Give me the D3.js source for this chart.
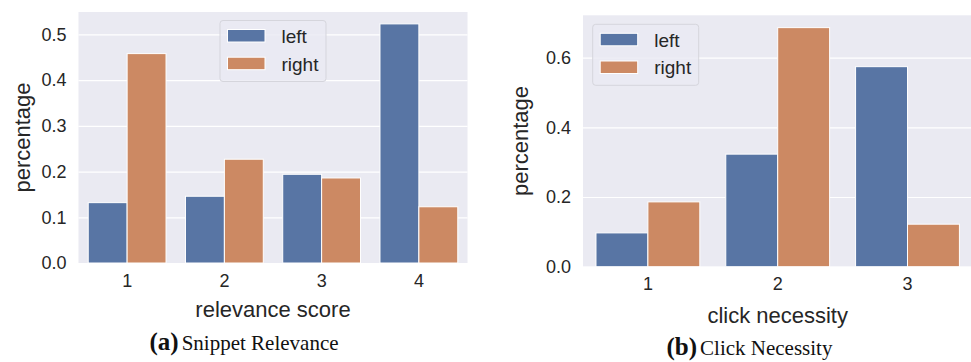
<!DOCTYPE html>
<html>
<head>
<meta charset="utf-8">
<script src="https://cdn.jsdelivr.net/npm/d3@7"></script>
<style>
  html, body { margin: 0; padding: 0; background: #fff; }
  svg { display: block; }
</style>
</head>
<body>
<svg id="chart" width="971" height="362"></svg>
<script>
// Share of "left" vs "right" judgements per score
const seriesNames = ["left", "right"];
const seriesColors = ["#5875a4", "#cc8963"];

const relevanceCategories = ["1", "2", "3", "4"];
const relevanceLeft = [0.132, 0.146, 0.194, 0.523];
const relevanceRight = [0.458, 0.227, 0.186, 0.123];
const relevanceTicks = [0.0, 0.1, 0.2, 0.3, 0.4, 0.5];

const necessityCategories = ["1", "2", "3"];
const necessityLeft = [0.097, 0.323, 0.574];
const necessityRight = [0.186, 0.686, 0.122];
const necessityTicks = [0.0, 0.2, 0.4, 0.6];

const svg = d3.select("#chart");
const sansFont = "'Liberation Sans', Arial, sans-serif";
const serifFont = "'Liberation Serif', 'Times New Roman', serif";

function drawPanel(opt) {
  const g = svg.append("g");
  const x = d3.scaleBand()
    .domain(opt.categories)
    .range([opt.left, opt.right])
    .paddingInner(0.2)
    .paddingOuter(0.1);
  const xs = d3.scaleBand().domain(seriesNames).range([0, x.bandwidth()]);
  const y = d3.scaleLinear().domain([0, opt.yMax]).range([opt.bottom, opt.top]);

  // background
  g.append("rect")
    .attr("x", opt.left).attr("y", opt.top)
    .attr("width", opt.right - opt.left).attr("height", opt.bottom - opt.top)
    .attr("fill", "#eaeaf2");

  // grid + y tick labels
  const yAxis = d3.axisLeft(y).tickValues(opt.ticks).tickFormat(d3.format(".1f"))
    .tickSize(-(opt.right - opt.left)).tickPadding(12);
  const ya = g.append("g").attr("transform", `translate(${opt.left},0)`).call(yAxis);
  ya.select(".domain").remove();
  ya.selectAll(".tick line").attr("stroke", "#ffffff").attr("stroke-width", 1.2);
  ya.selectAll(".tick text")
    .attr("fill", "#262626").attr("font-family", sansFont).attr("font-size", 18);

  // x tick labels
  const xAxis = d3.axisBottom(x).tickSize(0).tickPadding(11);
  const xa = g.append("g").attr("transform", `translate(0,${opt.bottom})`).call(xAxis);
  xa.select(".domain").remove();
  xa.selectAll(".tick text")
    .attr("fill", "#262626").attr("font-family", sansFont).attr("font-size", 18);

  // bars
  const rows = opt.categories.map((c, i) => ({
    cat: c,
    vals: [{ s: "left", v: opt.leftVals[i] }, { s: "right", v: opt.rightVals[i] }]
  }));
  const grp = g.append("g").selectAll("g").data(rows).join("g")
    .attr("transform", d => `translate(${x(d.cat)},0)`);
  grp.selectAll("rect").data(d => d.vals).join("rect")
    .attr("x", d => xs(d.s))
    .attr("width", xs.bandwidth())
    .attr("y", d => y(d.v))
    .attr("height", d => y(0) - y(d.v))
    .attr("fill", (d, i) => seriesColors[i])
    .attr("stroke", "#ffffff").attr("stroke-width", 1);

  // axis titles
  g.append("text")
    .attr("x", (opt.left + opt.right) / 2).attr("y", opt.xTitleY)
    .attr("text-anchor", "middle")
    .attr("font-family", sansFont).attr("font-size", 22).attr("fill", "#262626")
    .text(opt.xTitle);
  g.append("text")
    .attr("transform", `translate(${opt.yTitleX},${(opt.top + opt.bottom) / 2}) rotate(-90)`)
    .attr("text-anchor", "middle")
    .attr("font-family", sansFont).attr("font-size", 22).attr("fill", "#262626")
    .text("percentage");

  // legend
  const lg = g.append("g").attr("transform", `translate(${opt.legendX},${opt.legendY})`);
  lg.append("rect")
    .attr("width", 106).attr("height", 61).attr("rx", 3)
    .attr("fill", "#eaeaf2").attr("fill-opacity", 0.8)
    .attr("stroke", "#d5d5dc").attr("stroke-width", 1);
  seriesNames.forEach((name, i) => {
    lg.append("rect")
      .attr("x", 7.5).attr("y", 9 + i * 27.7)
      .attr("width", 37.5).attr("height", 12.5)
      .attr("fill", seriesColors[i]).attr("stroke", "#ffffff").attr("stroke-width", 1);
    lg.append("text")
      .attr("x", 61.5).attr("y", 22.5 + i * 27.7)
      .attr("font-family", sansFont).attr("font-size", 19).attr("fill", "#262626")
      .text(name);
  });

  // caption
  const cap = g.append("text")
    .attr("x", opt.capX).attr("y", opt.capY)
    .attr("font-family", serifFont).attr("fill", "#111");
  cap.append("tspan").attr("font-weight", "bold").attr("font-size", 25).text(opt.capTag);
  cap.append("tspan").attr("font-size", 21).attr("dx", 3).text(opt.capText);
}

drawPanel({
  categories: relevanceCategories, leftVals: relevanceLeft, rightVals: relevanceRight,
  ticks: relevanceTicks, yMax: 0.549,
  left: 78.5, right: 467.5, top: 12, bottom: 263,
  xTitle: "relevance score", xTitleY: 317, yTitleX: 30,
  legendX: 220, legendY: 20.5,
  capX: 149.5, capY: 349.5, capTag: "(a)", capText: "Snippet Relevance"
});

drawPanel({
  categories: necessityCategories, leftVals: necessityLeft, rightVals: necessityRight,
  ticks: necessityTicks, yMax: 0.7214,
  left: 583, right: 972.4, top: 15.3, bottom: 266.7,
  xTitle: "click necessity", xTitleY: 323, yTitleX: 528,
  legendX: 592.7, legendY: 24.3,
  capX: 666.5, capY: 354.5, capTag: "(b)", capText: "Click Necessity"
});
</script>
</body>
</html>
